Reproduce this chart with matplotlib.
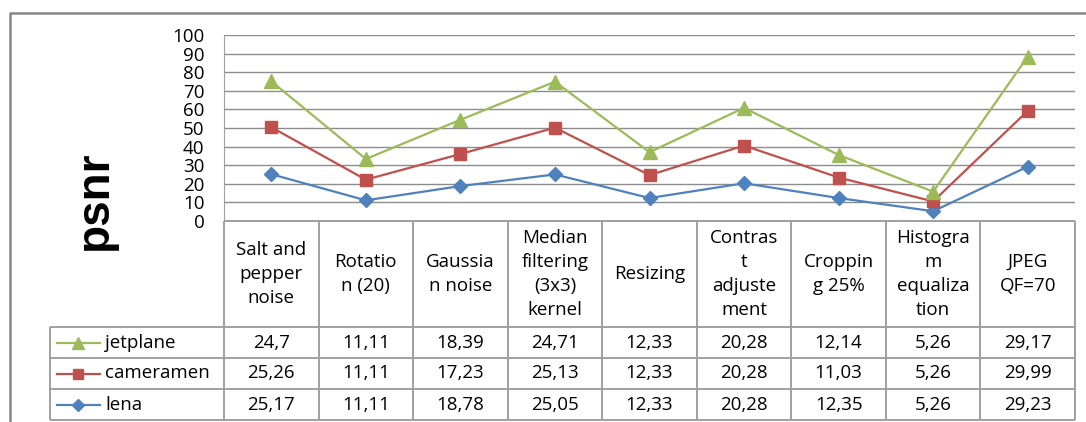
import matplotlib
matplotlib.use("Agg")
import matplotlib.pyplot as plt
from matplotlib.lines import Line2D

plt.rcParams['font.family'] = ['Open Sans', 'DejaVu Sans']

categories = ["Salt and\npepper\nnoise", "Rotatio\nn (20)", "Gaussia\nn noise",
              "Median\nfiltering\n(3x3)\nkernel", "Resizing",
              "Contras\nt\nadjuste\nment", "Croppin\ng 25%",
              "Histogra\nm\nequaliza\ntion", "JPEG\nQF=70"]
lena      = [25.17, 11.11, 18.78, 25.05, 12.33, 20.28, 12.35, 5.26, 29.23]
cameramen = [25.26, 11.11, 17.23, 25.13, 12.33, 20.28, 11.03, 5.26, 29.99]
jetplane  = [24.7, 11.11, 18.39, 24.71, 12.33, 20.28, 12.14, 5.26, 29.17]
yticks    = list(range(0, 101, 10))

GREEN = '#9BBB59'
RED   = '#C0504D'
BLUE  = '#4F81BD'
GRID  = '#8c8c8c'
EDGE  = '#a0a0a0'

W, H = 1086, 422
def fx(px): return px / W
def fy(py): return 1 - py / H

fig = plt.figure(figsize=(W / 100, H / 100), dpi=100)

# stacked line chart
ax = fig.add_axes([fx(224), fy(221), fx(1075) - fx(224), fy(35) - fy(221)])
x = range(len(categories))
cum1 = lena
cum2 = [a + b for a, b in zip(lena, cameramen)]
cum3 = [a + b for a, b in zip(cum2, jetplane)]
series = [("jetplane", cum3, GREEN, '^', 10),
          ("cameramen", cum2, RED, 's', 9),
          ("lena", cum1, BLUE, 'D', 7.5)]
for name, vals, col, mk, ms in series[::-1]:
    ax.plot(x, vals, color=col, lw=1.6, marker=mk, ms=ms,
            markeredgecolor=col, zorder=3)

ax.set_xlim(-0.5, len(categories) - 0.5)
ax.set_ylim(0, 100)
ax.set_yticks(yticks)
ax.tick_params(axis='y', length=0, pad=14, labelsize=13.5)
ax.set_xticks([])
ax.grid(axis='y', color=GRID, lw=1)
for s in ['top', 'right', 'bottom']:
    ax.spines[s].set_visible(False)
ax.spines['left'].set_color(EDGE)
ax.set_axisbelow(True)

fig.text(fx(95), fy(200), "psnr", rotation=90, ha='center', va='center',
         fontsize=33, fontweight='bold', family=['Liberation Sans', 'DejaVu Sans'])

# data table
ncat = len(categories)
colw = (1075 - 224) / ncat
legw = (224 - 50) / colw
rowh = (420 - 389)
hdr = (327 - 221) / rowh
nrows = len(series)
tax = fig.add_axes([fx(50), fy(420), fx(1075) - fx(50), fy(221) - fy(420)])
tax.set_xlim(-legw, ncat)
tax.set_ylim(hdr + nrows, 0)
tax.axis('off')

def tline(xs, ys):
    tax.plot(xs, ys, color=EDGE, lw=1.4, clip_on=False, solid_capstyle='butt')

for i in range(ncat + 1):
    tline([i, i], [0, hdr + nrows])
tline([-legw, -legw], [hdr, hdr + nrows])
tline([0, ncat], [0, 0])
for r in range(nrows + 1):
    tline([-legw, ncat], [hdr + r, hdr + r])

for i, c in enumerate(categories):
    tax.text(i + 0.5, hdr / 2, c, ha='center', va='center', fontsize=13.5,
             linespacing=1.45)

for r, (name, vals, col, mk, ms) in enumerate(series):
    yc = hdr + r + 0.5
    kx0 = (57 - 224) / colw
    kx1 = (100 - 224) / colw
    km = (78 - 224) / colw
    tax.plot([kx0, kx1], [yc, yc], color=col, lw=1.6)
    tax.plot([km], [yc], color=col, marker=mk, ms=ms * 0.85, markeredgecolor=col)
    tax.text((105 - 224) / colw, yc, name, ha='left', va='center', fontsize=13.5)

raw = {"jetplane": jetplane, "cameramen": cameramen, "lena": lena}
for r, (name, vals, col, mk, ms) in enumerate(series):
    yc = hdr + r + 0.5
    for i, v in enumerate(raw[name]):
        tax.text(i + 0.5, yc, f"{v:g}".replace('.', ','), ha='center',
                 va='center', fontsize=13.5)

# outer chart border
fig.add_artist(Line2D([fx(10), fx(10), fx(1086)], [fy(422), fy(13), fy(13)],
                      color='#868686', lw=1.8))

fig.savefig("out.png", dpi=100)
